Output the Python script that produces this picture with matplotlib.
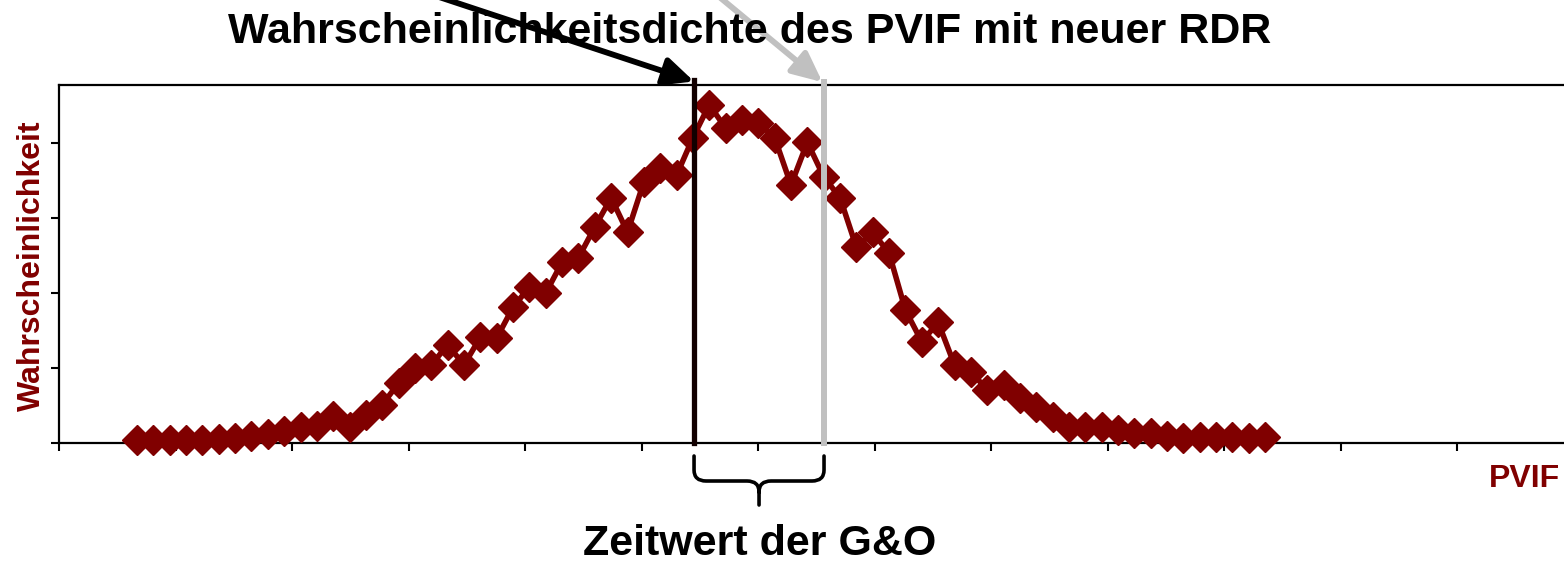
import numpy as np
import matplotlib
matplotlib.use("Agg")
import matplotlib.pyplot as plt
from matplotlib.path import Path
from matplotlib.patches import PathPatch
from matplotlib.transforms import blended_transform_factory

# ---------------- data ----------------
pvif_bins = np.arange(70)          # PVIF classes (evenly spaced bins)
density = [0.04, 0.04, 0.04, 0.04, 0.04, 0.05, 0.07, 0.09, 0.12, 0.16,
           0.21, 0.23, 0.36, 0.21, 0.37, 0.51, 0.80, 1.00, 1.04, 1.31,
           1.04, 1.41, 1.40, 1.81, 2.08, 2.00, 2.41, 2.47, 2.88, 3.27,
           2.81, 3.48, 3.67, 3.57, 4.07, 4.51, 4.20, 4.31, 4.27, 4.07,
           3.44, 4.01, 3.55, 3.27, 2.61, 2.81, 2.53, 1.77, 1.35, 1.61,
           1.04, 0.95, 0.71, 0.77, 0.60, 0.48, 0.35, 0.21, 0.21, 0.21,
           0.17, 0.13, 0.13, 0.09, 0.07, 0.08, 0.08, 0.08, 0.07, 0.08]
pvif_old_rdr = 34.07   # black line
pvif_new_rdr = 42.02   # grey line

title = "Wahrscheinlichkeitsdichte des PVIF mit neuer RDR"
ylabel = "Wahrscheinlichkeit"
xlabel = "PVIF"
brace_label = "Zeitwert der G&O"

# ---------------- style ----------------
DARKRED = "#800000"
FONT = ["Liberation Sans", "DejaVu Sans"]
plt.rcParams["font.family"] = FONT

W, H = 1564, 562
fig = plt.figure(figsize=(W / 100, H / 100), dpi=100)
ax_left, ax_right, ax_top, ax_bottom = 59, 1564, 85, 443
ax = fig.add_axes([ax_left / W, (H - ax_bottom) / H,
                   (ax_right - ax_left) / W, (ax_bottom - ax_top) / H])

# pixel helpers for layout
px0, dpx = 137.0, 16.35   # first bin centre, bin spacing (pixels)
def xdata(px):
    return (px - px0) / dpx

ax.set_xlim(xdata(ax_left), xdata(ax_right))
ax.set_ylim(0, (ax_bottom - ax_top) / 75.0)
ax.set_yticks([0, 1, 2, 3, 4])
ax.set_xticks([xdata(ax_left + 116.5 * k) for k in range(13)])
ax.tick_params(axis="both", direction="out", length=6, width=1.5,
               labelleft=False, labelbottom=False, colors="black")
for s in ["left", "bottom", "top"]:
    ax.spines[s].set_linewidth(1.6)
    ax.spines[s].set_color("black")
ax.spines["right"].set_visible(False)

ax.plot(pvif_bins, density, color=DARKRED, lw=4, marker="D", ms=15.5,
        mfc=DARKRED, mec=DARKRED, mew=1, clip_on=False, zorder=3)

ax.axvline(pvif_old_rdr, ymin=0, ymax=1.014, color="#120000", lw=3.8,
           clip_on=False, zorder=5)
ax.axvline(pvif_new_rdr, ymin=0, ymax=1.008, color="#c0c0c0", lw=4.3,
           clip_on=False, zorder=5)

# arrows from outside the top of the figure to the line tops
ax.annotate("", xy=(pvif_old_rdr, 1.01), xycoords=("data", "axes fraction"),
            xytext=(433, H + 5), textcoords="figure pixels",
            arrowprops=dict(arrowstyle="-|>,head_length=0.9,head_width=0.42",
                            mutation_scale=20, lw=4.2, color="black",
                            shrinkA=0, shrinkB=0),
            annotation_clip=False, zorder=6)
ax.annotate("", xy=(pvif_new_rdr - 0.1, 1.008), xycoords=("data", "axes fraction"),
            xytext=(717, H + 5), textcoords="figure pixels",
            arrowprops=dict(arrowstyle="-|>,head_length=0.9,head_width=0.42",
                            mutation_scale=20, lw=4.2, color="#c0c0c0",
                            shrinkA=0, shrinkB=0),
            annotation_clip=False, zorder=6)

# curly brace below the axis between the two lines
trans = blended_transform_factory(ax.transData, ax.transAxes)
def ya(py):
    return (ax_bottom - py) / (ax_bottom - ax_top)
xl, xr = pvif_old_rdr, pvif_new_rdr
xm = (xl + xr) / 2
r = 12 / dpx
verts = [(xl, ya(456)), (xl, ya(470)), (xl, ya(481)), (xl + r, ya(481)),
         (xm - r, ya(481)), (xm, ya(481)), (xm, ya(492)),
         (xm, ya(505)),
         (xm, ya(492)), (xm, ya(481)), (xm + r, ya(481)),
         (xr - r, ya(481)), (xr, ya(481)), (xr, ya(470)), (xr, ya(456))]
codes = [Path.MOVETO, Path.LINETO, Path.CURVE3, Path.CURVE3,
         Path.LINETO, Path.CURVE3, Path.CURVE3,
         Path.LINETO,
         Path.MOVETO, Path.CURVE3, Path.CURVE3,
         Path.LINETO, Path.CURVE3, Path.CURVE3, Path.LINETO]
ax.add_patch(PathPatch(Path(verts, codes), transform=trans, fill=False,
                       lw=2.6, edgecolor="black", clip_on=False,
                       capstyle="round", joinstyle="round"))

# texts
fig.text(750 / W, (H - 43) / H, title, ha="center", va="baseline",
         fontsize=31, fontweight="bold", color="black", zorder=1)
fig.text(760 / W, (H - 555) / H, brace_label, ha="center", va="baseline",
         fontsize=31, fontweight="bold", color="black")
fig.text(1560 / W, (H - 487) / H, xlabel, ha="right", va="baseline",
         fontsize=23, fontweight="bold", color=DARKRED)
fig.text(32 / W, (H - 266) / H, ylabel, ha="center", va="center",
         rotation=90, fontsize=23, fontweight="bold", color=DARKRED)

fig.savefig("out.png", dpi=100)
